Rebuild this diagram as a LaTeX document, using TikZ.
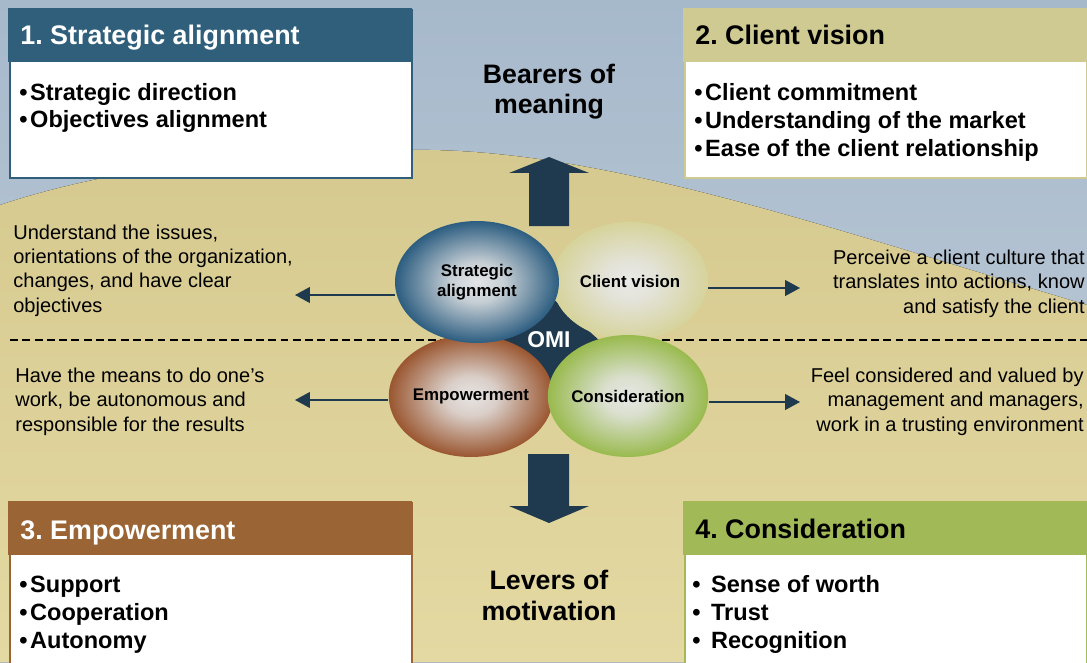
\documentclass[tikz,border=0pt]{standalone}
\usepackage{fontspec}
\setmainfont{Liberation Sans}
\frenchspacing
\usetikzlibrary{arrows.meta,shapes.geometric,positioning}

\definecolor{skytop}{HTML}{A6B9CB}
\definecolor{skybot}{HTML}{C4CFDA}
\definecolor{sandtop}{HTML}{D5C98F}
\definecolor{sandbot}{HTML}{E4D9A2}
\definecolor{navy}{HTML}{1F3A4E}
\definecolor{saBlue}{HTML}{2F5F7B}
\definecolor{cvKhaki}{HTML}{CFCA92}
\definecolor{emBrown}{HTML}{9A6434}
\definecolor{coGreen}{HTML}{A2B957}
\definecolor{eggBlue}{HTML}{2C5D80}
\definecolor{eggKhaki}{HTML}{D6D39B}
\definecolor{eggBrown}{HTML}{9A5630}
\definecolor{eggGreen}{HTML}{99BA4E}
\colorlet{eggcol}{eggBlue}

\pgfdeclareradialshading[eggcol]{eggshade}{\pgfpointorigin}{%
  color(0bp)=(eggcol!4!white!92!black);
  color(8bp)=(eggcol!18!white!92!black);
  color(25bp)=(eggcol);
  color(50bp)=(eggcol)}

\tikzset{
  boxbody/.style={anchor=north west,fill=white,line width=1.4pt,minimum width=8.04cm,inner sep=0},
  boxhead/.style={anchor=north west,minimum width=8.08cm,minimum height=1.08cm,inner sep=0},
  headtext/.style={anchor=base west,inner sep=0,font=\fontsize{15.3}{18}\selectfont\bfseries},
  bullets/.style={anchor=base west,inner sep=0,align=left,font=\fontsize{13.4}{15.9}\selectfont\bfseries},
  sidetext/.style={inner sep=0,font=\fontsize{11.4}{13.8}\selectfont},
  egg/.style={ellipse,shade,shading=eggshade,inner sep=0,align=center,font=\fontsize{9.6}{11.4}\selectfont\bfseries},
  bigword/.style={anchor=base,inner sep=0,align=center,font=\fontsize{15.2}{17.6}\selectfont\bfseries},
  sidearrow/.style={draw=navy,line width=0.9pt,-{Triangle[length=8.5pt,width=9pt]}},
  dashline/.style={line width=0.8pt,dash pattern=on 4.5pt off 2.5pt},
  bigarrow/.style={fill=navy}
}

\begin{document}
\begin{tikzpicture}[x=0.02cm,y=-0.02cm]
 \useasboundingbox (0,0) rectangle (1087,662);
 \clip (0,0) rectangle (1087,662);

 %sky and hill
 \fill[top color=skytop,bottom color=skybot] (0,0) rectangle (1087,662);
 \fill[top color=sandtop,bottom color=sandbot] (0,205) .. controls (120,165) and (280,148) .. (430,150)
   .. controls (620,153) and (850,235) .. (1087,305) -- (1087,662) -- (0,662) -- cycle;

 %box 1 (multi-line nodes sit on their last baseline)
 \node[boxbody,draw=saBlue,minimum height=3.36cm] (b1) at (9,9) {};
 \node[boxhead,fill=saBlue] (h1) at (8,8) {};
 \node[headtext,text=white] (h1t) at (20,45) {1. Strategic alignment};
 \node[bullets] (l1) at (19,128) {\textbullet\hspace{1.5pt}Strategic direction\\\textbullet\hspace{1.5pt}Objectives alignment};

 %box 2
 \node[boxbody,draw=cvKhaki,minimum height=3.36cm] (b2) at (684,9) {};
 \node[boxhead,fill=cvKhaki] (h2) at (683,8) {};
 \node[headtext] (h2t) at (695,45) {2. Client vision};
 \node[bullets] (l2) at (694,156) {\textbullet\hspace{1.5pt}Client commitment\\\textbullet\hspace{1.5pt}Understanding of the market\\\textbullet\hspace{1.5pt}Ease of the client relationship};

 %box 3
 \node[boxbody,draw=emBrown,minimum height=3.96cm] (b3) at (9,502) {};
 \node[boxhead,fill=emBrown] (h3) at (8,501) {};
 \node[headtext,text=white] (h3t) at (20,539) {3. Empowerment};
 \node[bullets] (l3) at (19,648) {\textbullet\hspace{1.5pt}Support\\\textbullet\hspace{1.5pt}Cooperation\\\textbullet\hspace{1.5pt}Autonomy};

 %box 4
 \node[boxbody,draw=coGreen,minimum height=3.96cm] (b4) at (684,502) {};
 \node[boxhead,fill=coGreen] (h4) at (683,501) {};
 \node[headtext] (h4t) at (695,538) {4. Consideration};
 \node[bullets] (l4) at (692,648) {\textbullet\hspace{6pt}Sense of worth\\\textbullet\hspace{6pt}Trust\\\textbullet\hspace{6pt}Recognition};

 %meaning and motivation
 \node[bigword] (bear) at (549,114) {Bearers of\\meaning};
 \node[bigword] (lever) at (549,620) {Levers of\\motivation};
 \fill[bigarrow] (529,226) -- (529,173) -- (509,173) -- (549,157) -- (589,173) -- (569,173) -- (569,226) -- cycle;
 \fill[bigarrow] (528,454) -- (528,506) -- (509,506) -- (549,523) -- (589,506) -- (569,506) -- (569,454) -- cycle;

 %dashed split
 \coordinate (dl) at (10,340);
 \coordinate (dr) at (1087,340);
 \draw[dashline] (dl) -- (dr);

 %OMI core and the four ellipses
 \node[diamond,fill=navy,text=white,minimum width=2cm,minimum height=1.8cm,inner sep=0,
   font=\fontsize{13}{15}\selectfont\bfseries] (omi) at (549,340) {OMI};
 \colorlet{eggcol}{eggKhaki}
 \node[egg,minimum width=3.12cm,minimum height=2.36cm] (cv) at (630,281) {Client vision};
 \colorlet{eggcol}{eggBrown}
 \node[egg,minimum width=3.28cm,minimum height=2.44cm] (em) at (471,396) {Empowerment};
 \colorlet{eggcol}{eggBlue}
 \node[egg,minimum width=3.28cm,minimum height=2.44cm] (sa) at (477,282) {Strategic\\alignment};
 \colorlet{eggcol}{eggGreen}
 \node[egg,minimum width=3.2cm,minimum height=2.44cm] (co) at (628,396) {Consideration};

 %side notes
 \coordinate (saEnd) at (295,295);
 \coordinate (cvEnd) at (800,288);
 \coordinate (emEnd) at (295,400);
 \coordinate (coEnd) at (800,402);
 \draw[sidearrow] (sa.west |- saEnd) -- (saEnd);
 \draw[sidearrow] (cv.east |- cvEnd) -- (cvEnd);
 \draw[sidearrow] (em.west |- emEnd) -- (emEnd);
 \draw[sidearrow] (co.east |- coEnd) -- (coEnd);
 \node[sidetext,anchor=base west,align=left] (saTxt) at (13,312) {Understand the issues,\\orientations of the organization,\\changes, and have clear\\objectives};
 \node[sidetext,anchor=base east,align=right] (cvTxt) at (1085,313) {Perceive a client culture that\\translates into actions, know\\and satisfy the client};
 \node[sidetext,anchor=base west,align=left] (emTxt) at (15,431) {Have the means to do one’s\\work, be autonomous and\\responsible for the results};
 \node[sidetext,anchor=base east,align=right] (coTxt) at (1084,431) {Feel considered and valued by\\management and managers,\\work in a trusting environment};
\end{tikzpicture}
\end{document}
